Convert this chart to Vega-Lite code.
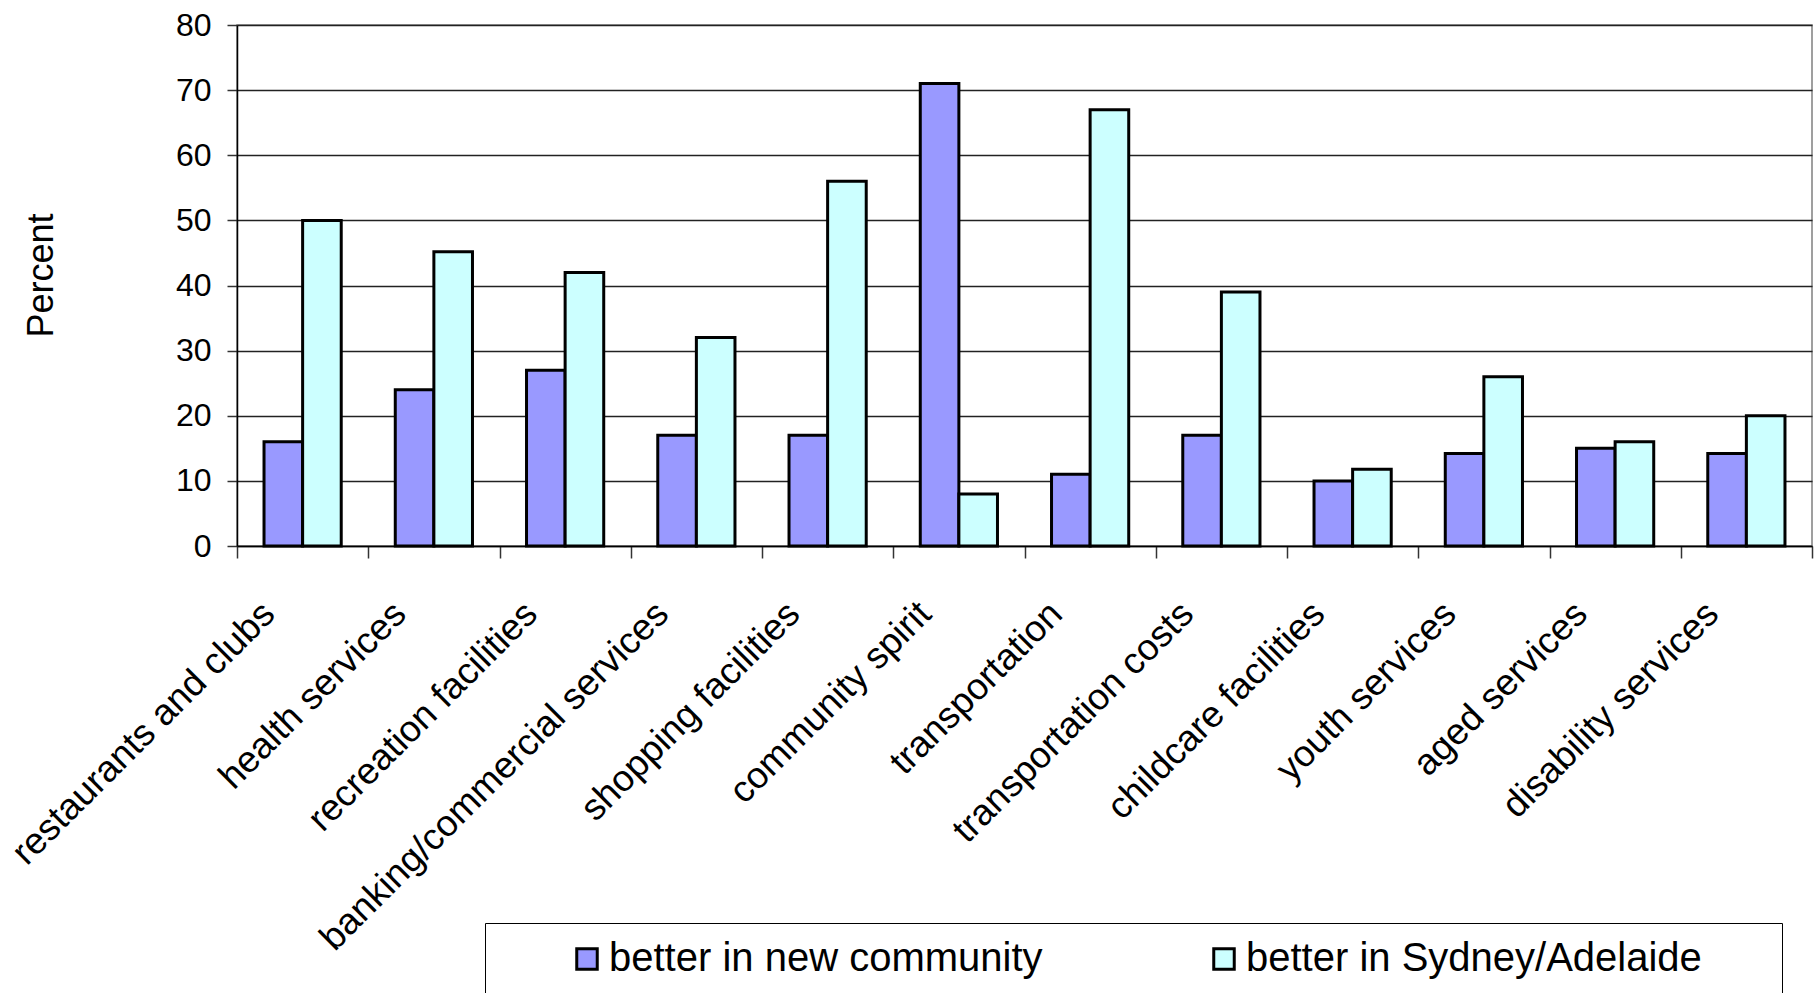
{
  "$schema": "https://vega.github.io/schema/vega-lite/v6.json",
  "width": 1575,
  "height": 521,
  "autosize": {"type": "none"},
  "padding": {"left": 237, "top": 25, "right": 5, "bottom": 447},
  "background": "white",
  "config": {
    "font": "Liberation Sans",
    "view": {"stroke": "#808080", "strokeWidth": 1.5}
  },
  "data": {
    "values": [
      {"category": "restaurants and clubs", "series": "better in new community", "value": 16},
      {"category": "restaurants and clubs", "series": "better in Sydney/Adelaide", "value": 50},
      {"category": "health services", "series": "better in new community", "value": 24},
      {"category": "health services", "series": "better in Sydney/Adelaide", "value": 45.2},
      {"category": "recreation facilities", "series": "better in new community", "value": 27},
      {"category": "recreation facilities", "series": "better in Sydney/Adelaide", "value": 42},
      {"category": "banking/commercial services", "series": "better in new community", "value": 17},
      {"category": "banking/commercial services", "series": "better in Sydney/Adelaide", "value": 32},
      {"category": "shopping facilities", "series": "better in new community", "value": 17},
      {"category": "shopping facilities", "series": "better in Sydney/Adelaide", "value": 56},
      {"category": "community spirit", "series": "better in new community", "value": 71},
      {"category": "community spirit", "series": "better in Sydney/Adelaide", "value": 8},
      {"category": "transportation", "series": "better in new community", "value": 11},
      {"category": "transportation", "series": "better in Sydney/Adelaide", "value": 67},
      {"category": "transportation costs", "series": "better in new community", "value": 17},
      {"category": "transportation costs", "series": "better in Sydney/Adelaide", "value": 39},
      {"category": "childcare facilities", "series": "better in new community", "value": 10},
      {"category": "childcare facilities", "series": "better in Sydney/Adelaide", "value": 11.8},
      {"category": "youth services", "series": "better in new community", "value": 14.2},
      {"category": "youth services", "series": "better in Sydney/Adelaide", "value": 26},
      {"category": "aged services", "series": "better in new community", "value": 15},
      {"category": "aged services", "series": "better in Sydney/Adelaide", "value": 16},
      {"category": "disability services", "series": "better in new community", "value": 14.2},
      {"category": "disability services", "series": "better in Sydney/Adelaide", "value": 20}
    ]
  },
  "mark": {"type": "bar", "stroke": "black", "strokeWidth": 3, "strokeJoin": "miter"},
  "encoding": {
    "x": {
      "field": "category",
      "type": "nominal",
      "sort": null,
      "scale": {"paddingInner": 0, "paddingOuter": 0},
      "axis": {
        "title": null,
        "domainColor": "black",
        "domainWidth": 1.5,
        "tickColor": "#333",
        "tickWidth": 1.5,
        "tickSize": 12,
        "tickBand": "extent",
        "labelAngle": -45,
        "labelAlign": "right",
        "labelBaseline": "middle",
        "labelFontSize": 37,
        "labelColor": "black",
        "labelPadding": 50,
        "labelOffset": -34,
        "labelLimit": 1000
      }
    },
    "xOffset": {
      "field": "series",
      "type": "nominal",
      "sort": ["better in new community", "better in Sydney/Adelaide"],
      "scale": {"paddingInner": 0, "paddingOuter": 0.7}
    },
    "y": {
      "field": "value",
      "type": "quantitative",
      "scale": {"domain": [0, 80], "nice": false},
      "axis": {
        "title": "Percent",
        "titleFontSize": 36,
        "titleFontWeight": "normal",
        "titleColor": "black",
        "titleAngle": -90,
        "titleX": -196,
        "titleY": 250,
        "titleAlign": "center",
        "titleBaseline": "middle",
        "values": [0, 10, 20, 30, 40, 50, 60, 70, 80],
        "labelFontSize": 32,
        "labelColor": "black",
        "labelPadding": 16,
        "tickSize": 10,
        "tickColor": "#333",
        "tickWidth": 1.5,
        "domainColor": "black",
        "domainWidth": 1.5,
        "gridColor": "#222",
        "gridWidth": 1.5
      }
    },
    "color": {
      "field": "series",
      "type": "nominal",
      "scale": {"domain": ["better in new community", "better in Sydney/Adelaide"], "range": ["#9999FF", "#CCFFFF"]},
      "legend": {
        "title": "\u00a0",
        "titleOrient": "right",
        "titlePadding": 64,
        "titleFontSize": 10,
        "orient": "none",
        "legendX": 248,
        "legendY": 898,
        "direction": "horizontal",
        "columns": 2,
        "strokeColor": "black",
        "padding": 16,
        "symbolType": "square",
        "symbolSize": 420,
        "symbolStrokeColor": "black",
        "symbolStrokeWidth": 3,
        "symbolOffset": 66,
        "labelFontSize": 40,
        "labelColor": "black",
        "labelOffset": 2,
        "labelLimit": 1000,
        "columnPadding": 95
      }
    }
  }
}
